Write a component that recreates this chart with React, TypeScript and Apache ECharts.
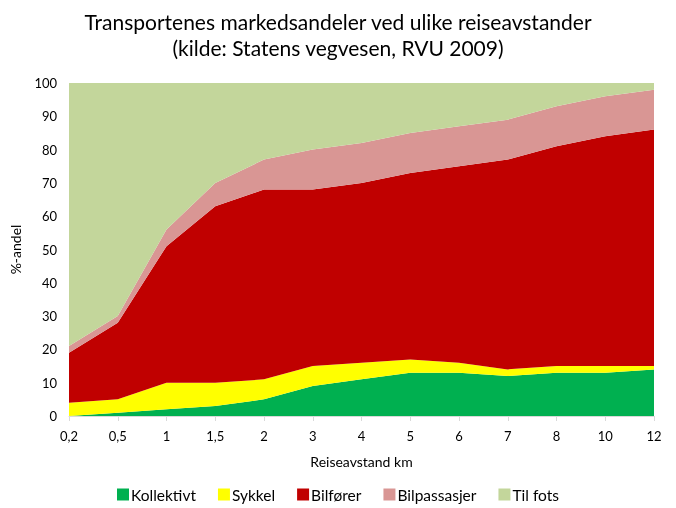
import React, { useEffect, useRef } from "react";
import * as echarts from "echarts";

const categories = ["0,2", "0,5", "1", "1,5", "2", "3", "4", "5", "6", "7", "8", "10", "12"];
const kollektivt = [0, 1, 2, 3, 5, 9, 11, 13, 13, 12, 13, 13, 14];
const sykkel = [4, 4, 8, 7, 6, 6, 5, 4, 3, 2, 2, 2, 1];
const bilforer = [15, 23, 41, 53, 57, 53, 54, 56, 59, 63, 66, 69, 71];
const bilpassasjer = [2, 2, 5, 7, 9, 12, 12, 12, 12, 12, 12, 12, 12];
const tilFots = [79, 70, 44, 30, 23, 20, 18, 15, 13, 11, 7, 4, 2];

const seriesDefs = [
  { name: "Kollektivt", data: kollektivt, color: "#00B050" },
  { name: "Sykkel", data: sykkel, color: "#FFFF00" },
  { name: "Bilfører", data: bilforer, color: "#C00000" },
  { name: "Bilpassasjer", data: bilpassasjer, color: "#D99694" },
  { name: "Til fots", data: tilFots, color: "#C3D69B" },
];

const FONT = "Lato, 'Open Sans', sans-serif";

export default function App() {
  const ref = useRef<HTMLDivElement>(null);
  useEffect(() => {
    if (!ref.current) return;
    const chart = echarts.init(ref.current, null, { renderer: "svg" });
    chart.setOption({
      animation: false,
      textStyle: { fontFamily: FONT },
      title: {
        text: "Transportenes markedsandeler ved ulike reiseavstander\n(kilde: Statens vegvesen, RVU 2009)",
        left: "center",
        top: 3,
        textStyle: { fontFamily: FONT, fontSize: 21, fontWeight: "normal", color: "#000", lineHeight: 26 },
      },
      legend: {
        top: 486,
        left: "center",
        padding: 0,
        itemWidth: 12,
        itemHeight: 12,
        itemGap: 22,
        icon: "rect",
        textStyle: { fontFamily: FONT, fontSize: 15.5, lineHeight: 17, color: "#000", padding: [0, 0, 0, -3] },
        data: seriesDefs.map((s) => s.name),
      },
      grid: { left: 68, right: 22, top: 83, bottom: 92, containLabel: false },
      xAxis: {
        type: "category",
        data: categories,
        boundaryGap: false,
        name: "Reiseavstand km",
        nameLocation: "middle",
        nameGap: 38,
        nameTextStyle: { fontFamily: FONT, fontSize: 14, color: "#000" },
        axisLine: { lineStyle: { color: "#D9D9D9" } },
        axisTick: { show: true, length: 5, lineStyle: { color: "#D9D9D9" } },
        axisLabel: { fontFamily: FONT, fontSize: 13, color: "#000", margin: 13 },
      },
      yAxis: {
        type: "value",
        min: 0,
        max: 100,
        interval: 10,
        name: "%-andel",
        nameLocation: "middle",
        nameGap: 47,
        nameTextStyle: { fontFamily: FONT, fontSize: 14, color: "#000" },
        axisLine: { show: false },
        axisTick: { show: false },
        splitLine: { show: false },
        axisLabel: { fontFamily: FONT, fontSize: 13, color: "#000", margin: 12 },
      },
      series: seriesDefs.map((s) => ({
        name: s.name,
        type: "line",
        stack: "total",
        data: s.data,
        symbol: "none",
        lineStyle: { width: 0 },
        itemStyle: { color: s.color },
        areaStyle: { color: s.color, opacity: 1 },
      })),
    });
    return () => chart.dispose();
  }, []);
  return <div ref={ref} style={{ position: "fixed", left: 0, top: 0, width: 676, height: 508 }} />;
}
